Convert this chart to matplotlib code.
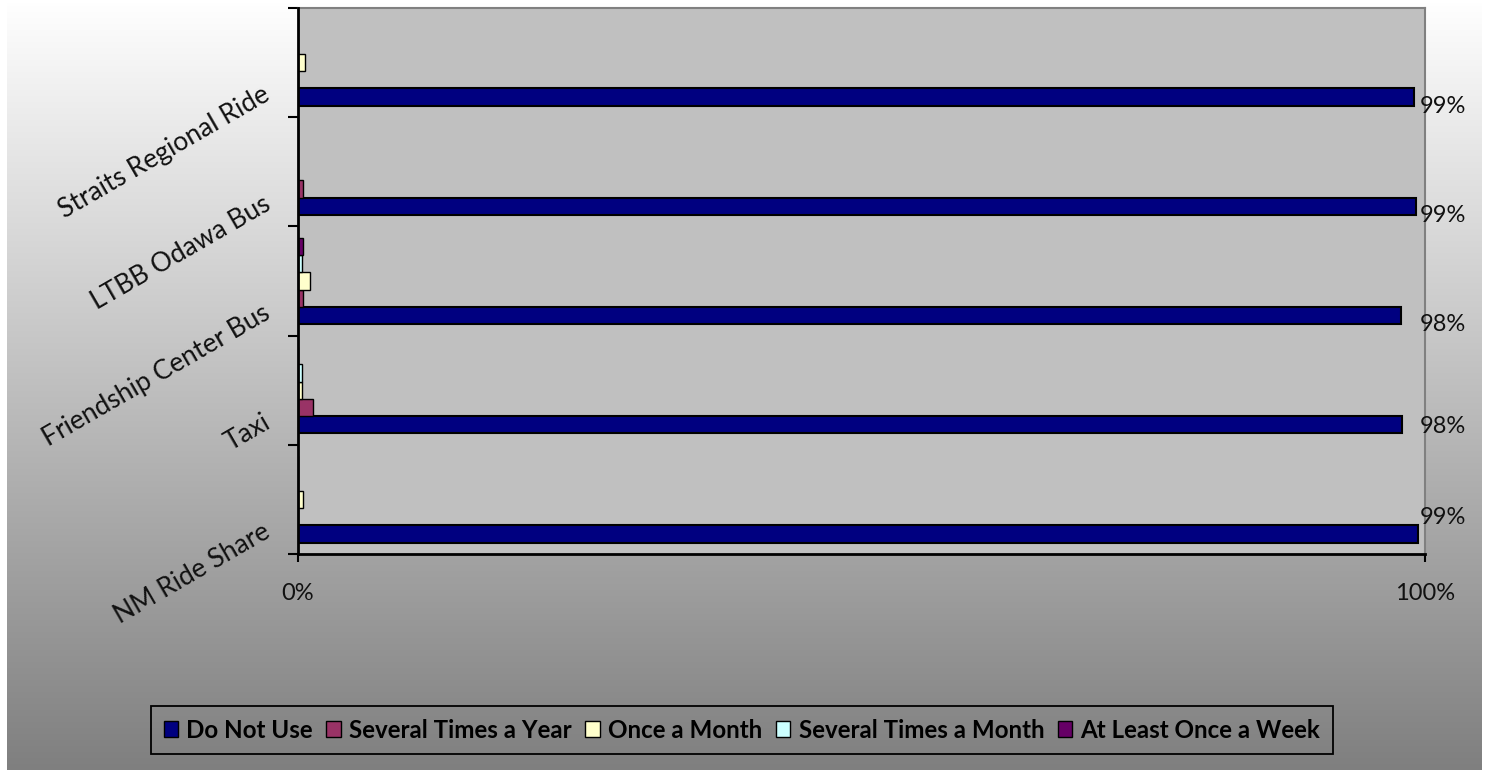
import numpy as np
import matplotlib.pyplot as plt
from matplotlib.patches import Patch
from matplotlib.colors import LinearSegmentedColormap

# categories, bottom to top as drawn
categories = ['NM Ride Share', 'Taxi', 'Friendship Center Bus',
              'LTBB Odawa Bus', 'Straits Regional Ride']

series_names = ['Do Not Use', 'Several Times a Year', 'Once a Month',
                'Several Times a Month', 'At Least Once a Week']
series_colors = ['#000080', '#993366', '#FFFFCC', '#CCFFFF', '#660066']

# percent of respondents
do_not_use = [99.4, 98.0, 97.9, 99.2, 99.0]
several_year = [0.0, 1.3, 0.45, 0.45, 0.0]
once_month = [0.4, 0.35, 1.1, 0.0, 0.6]
several_month = [0.0, 0.35, 0.35, 0.0, 0.0]
once_week = [0.0, 0.0, 0.45, 0.0, 0.0]
series_values = [do_not_use, several_year, once_month, several_month, once_week]

x_ticks = [0, 100]
x_tick_labels = ['0%', '100%']

FONT = ['Lato', 'DejaVu Sans']
plt.rcParams['font.family'] = FONT
TXT = '#111111'

W, H = 1488, 770
fig = plt.figure(figsize=(W / 100, H / 100), dpi=100)
fig.patch.set_facecolor('white')

# gradient background (white at top, gray at bottom)
bg = fig.add_axes([7 / W, 0, 1475 / W, 1], zorder=-5)
grad = np.linspace(0, 1, 256).reshape(-1, 1)
cmap = LinearSegmentedColormap.from_list('bg', ['#FFFFFF', '#7F7F7F'])
bg.imshow(grad, aspect='auto', cmap=cmap, extent=[0, 1, 1, 0])
bg.axis('off')

# plot area
ax = fig.add_axes([298 / W, 1 - 554 / H, (1425 - 298) / W, (554 - 8) / H])
ax.set_facecolor('#C0C0C0')

n_series = len(series_names)
bar_h = 0.158
y_base = np.arange(len(categories))
first_pos = None
for i, (name, vals, col) in enumerate(zip(series_names, series_values, series_colors)):
    ypos = y_base - n_series * bar_h / 2 + bar_h / 2 + i * bar_h
    lw = 1.5 if i == 0 else 1.0
    ax.barh(ypos, vals, height=bar_h, color=col, edgecolor='black',
            linewidth=lw, label=name, zorder=3)
    if i == 0:
        first_pos = ypos

# data labels for "Do Not Use" (Excel nudged them slightly)
label_dy = [-16, 2, 9, 9, 9]   # pixels, positive = down
label_x = max(do_not_use) + 0.15
for yp, v, dy in zip(first_pos, do_not_use, label_dy):
    ax.annotate(f'{v:.0f}%', xy=(label_x, yp), xytext=(0, -dy),
                textcoords='offset pixels', ha='left', va='center',
                fontsize=17, color=TXT, annotation_clip=False)

ax.set_xlim(0, 100)
ax.set_ylim(-0.5, len(categories) - 0.5)

ax.set_xticks(x_ticks)
ax.set_xticklabels(x_tick_labels, fontsize=17, color=TXT)
ax.set_yticks(np.arange(-0.5, len(categories), 1.0))
ax.set_yticklabels([])
ax.tick_params(axis='x', direction='out', length=6, width=1.5, pad=15)
ax.tick_params(axis='y', direction='out', length=7, width=1.5)

for s in ['left', 'bottom']:
    ax.spines[s].set_color('black')
    ax.spines[s].set_linewidth(2)
for s in ['top', 'right']:
    ax.spines[s].set_color('#808080')
    ax.spines[s].set_linewidth(1.5)
ax.spines['left'].set_zorder(5)

# rotated category labels
for i, cat in enumerate(categories):
    ax.text(-0.032, i - 0.18, cat, transform=ax.get_yaxis_transform(),
            rotation=30, rotation_mode='anchor', ha='right', va='top',
            fontsize=19, color=TXT)

handles = [Patch(facecolor=c, edgecolor='black', linewidth=1.0) for c in series_colors]
leg = fig.legend(handles, series_names, loc='center', ncol=5,
                 bbox_to_anchor=(742 / W, 1 - 730 / H),
                 frameon=True, fancybox=False, framealpha=1,
                 facecolor='none', edgecolor='black',
                 handlelength=0.6, handleheight=0.6, handletextpad=0.35,
                 columnspacing=0.55, borderpad=0.5,
                 prop={'family': FONT, 'weight': 'bold', 'size': 17.4})
leg.get_frame().set_linewidth(1.3)

fig.savefig('out.png', dpi=100)
